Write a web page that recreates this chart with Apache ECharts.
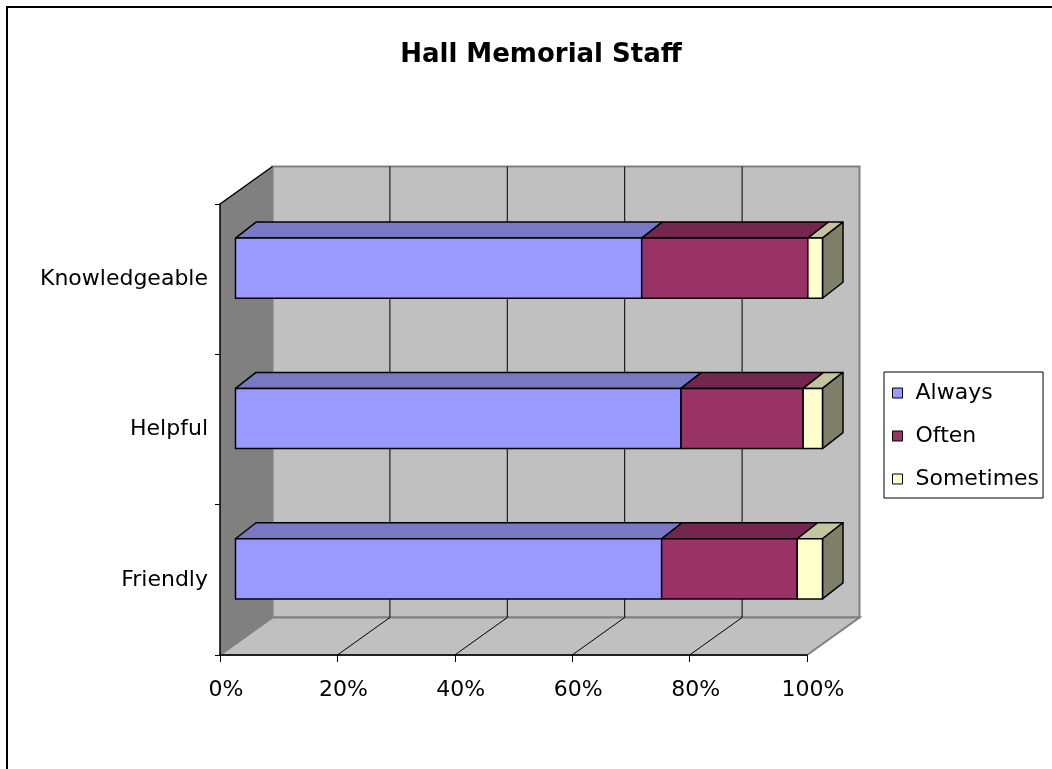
<!DOCTYPE html>
<html>
<head>
<meta charset="utf-8">
<script src="https://cdn.jsdelivr.net/npm/echarts@6/dist/echarts.min.js"></script>
<style>
  html, body { margin: 0; padding: 0; background: #fff; }
  #main { width: 1052px; height: 769px; }
</style>
</head>
<body>
<div id="main"></div>
<script>
// data, bottom to top as in the picture
var categories = ['Friendly', 'Helpful', 'Knowledgeable'];
var seriesNames = ['Always', 'Often', 'Sometimes'];
var always = [72.6, 75.9, 69.2];
var often = [23.1, 20.8, 28.3];
var sometimes = [4.3, 3.3, 2.5];
var xTicks = [0, 20, 40, 60, 80, 100];

var frontColors = ['#9999FF', '#993366', '#FFFFCC'];
var topColors = ['#7878C4', '#74264F', '#C4C49E'];
var sideColors = ['#6C6CB4', '#5E1F40', '#80806A'];

// 3d look: wall depth and bar offsets (px)
var WX = 52.5, WY = -37.5;
var BOX = 15.5, BOY = -11, BDX = 20.5, BDY = -16;

var dom = document.getElementById('main');
var myChart = echarts.init(dom);

function stackData(idx) {
    var all = [always, often, sometimes];
    return categories.map(function (c, i) {
        var start = 0;
        for (var k = 0; k < idx; k++) start += all[k][i];
        return [i, start, start + all[idx][i]];
    });
}

function renderWalls(params, api) {
    var cs = params.coordSys;
    var yb = cs.y + cs.height;
    var children = [];
    children.push({
        type: 'polygon',
        shape: { points: [[cs.x, cs.y], [cs.x + WX, cs.y + WY], [cs.x + WX, yb + WY], [cs.x, yb]] },
        style: { fill: '#808080' }
    });
    children.push({
        type: 'rect',
        shape: { x: cs.x + WX, y: cs.y + WY, width: cs.width, height: cs.height },
        style: { fill: '#C0C0C0', stroke: '#808080', lineWidth: 2 }
    });
    children.push({
        type: 'polygon',
        shape: { points: [[cs.x, yb], [cs.x + cs.width, yb], [cs.x + cs.width + WX, yb + WY], [cs.x + WX, yb + WY]] },
        style: { fill: '#C0C0C0', stroke: '#808080', lineWidth: 2 }
    });
    children.push({
        type: 'line',
        shape: { x1: cs.x, y1: cs.y, x2: cs.x + WX, y2: cs.y + WY },
        style: { stroke: '#000', lineWidth: 1.5 }
    });
    xTicks.forEach(function (v, i) {
        if (i === 0 || i === xTicks.length - 1) return;
        var px = api.coord([v, 0])[0];
        children.push({
            type: 'line',
            shape: { x1: px + WX, y1: cs.y + WY, x2: px + WX, y2: yb + WY },
            style: { stroke: '#000', lineWidth: 1 }
        });
        children.push({
            type: 'line',
            shape: { x1: px, y1: yb, x2: px + WX, y2: yb + WY },
            style: { stroke: '#000', lineWidth: 1 }
        });
    });
    return { type: 'group', children: children };
}

function makeBarRender(idx) {
    return function (params, api) {
        var cat = api.value(0);
        var p0 = api.coord([api.value(1), cat]);
        var p1 = api.coord([api.value(2), cat]);
        var h = api.size([0, 1])[1] * 0.4;
        var x0 = p0[0] + BOX, x1 = p1[0] + BOX;
        var yT = p0[1] + BOY - h / 2, yB = yT + h;
        var line = { stroke: '#000', lineWidth: 1.5, lineJoin: 'round' };
        var children = [];
        children.push({
            type: 'polygon',
            shape: { points: [[x0, yT], [x1, yT], [x1 + BDX, yT + BDY], [x0 + BDX, yT + BDY]] },
            style: echarts.util.extend({ fill: topColors[idx] }, line)
        });
        if (idx === seriesNames.length - 1) {
            children.push({
                type: 'polygon',
                shape: { points: [[x1, yT], [x1 + BDX, yT + BDY], [x1 + BDX, yB + BDY], [x1, yB]] },
                style: echarts.util.extend({ fill: sideColors[idx] }, line)
            });
        }
        children.push({
            type: 'rect',
            shape: { x: x0, y: yT, width: x1 - x0, height: h },
            style: echarts.util.extend({ fill: frontColors[idx] }, line)
        });
        return { type: 'group', children: children };
    };
}

var font = 'DejaVu Sans';
var series = [{
    type: 'custom',
    name: 'walls',
    silent: true,
    z: 1,
    data: [[0, 0]],
    encode: { x: 0, y: 1 },
    renderItem: renderWalls
}];
seriesNames.forEach(function (name, idx) {
    series.push({
        type: 'custom',
        name: name,
        z: 3 + idx,
        itemStyle: { color: frontColors[idx], borderColor: '#000', borderWidth: 1 },
        data: stackData(idx),
        encode: { x: [1, 2], y: 0 },
        renderItem: makeBarRender(idx)
    });
});

var option = {
    animation: false,
    backgroundColor: '#fff',
    textStyle: { fontFamily: font },
    title: {
        text: 'Hall Memorial Staff',
        left: 536,
        textAlign: 'center',
        top: 37,
        textStyle: { fontFamily: font, fontSize: 26, fontWeight: 'bold', color: '#000' }
    },
    legend: {
        data: seriesNames,
        orient: 'vertical',
        left: 884,
        top: 372,
        padding: [10, 4, 8, 8],
        itemGap: 21,
        itemWidth: 10,
        itemHeight: 10,
        icon: 'rect',
        borderColor: '#000',
        borderWidth: 1,
        itemStyle: { borderColor: '#000', borderWidth: 1 },
        textStyle: { fontFamily: font, fontSize: 22, color: '#000', lineHeight: 22, padding: [0, 0, 0, 8] }
    },
    grid: { left: 220, top: 204, width: 587, height: 451, containLabel: false },
    xAxis: {
        type: 'value',
        min: 0,
        max: 100,
        interval: 20,
        z: 6,
        axisLine: { show: true, lineStyle: { color: '#000', width: 1.5 } },
        axisTick: { show: true, length: 7, lineStyle: { color: '#000' } },
        splitLine: { show: false },
        axisLabel: { formatter: '{value}%', fontFamily: font, fontSize: 22, color: '#000', margin: 24, padding: [0, 0, 0, 12] }
    },
    yAxis: {
        type: 'category',
        data: categories,
        z: 6,
        axisLine: { show: true, lineStyle: { color: '#000', width: 1.5 } },
        axisTick: { show: true, length: 5, lineStyle: { color: '#000' } },
        splitLine: { show: false },
        axisLabel: { fontFamily: font, fontSize: 22, color: '#000', margin: 12, padding: [6, 0, 0, 0] }
    },
    graphic: [{
        type: 'rect',
        shape: { x: 7, y: 7, width: 1100, height: 800 },
        style: { fill: null, stroke: '#000', lineWidth: 2 },
        z: 100
    }],
    series: series
};
myChart.setOption(option);
</script>
</body>
</html>
